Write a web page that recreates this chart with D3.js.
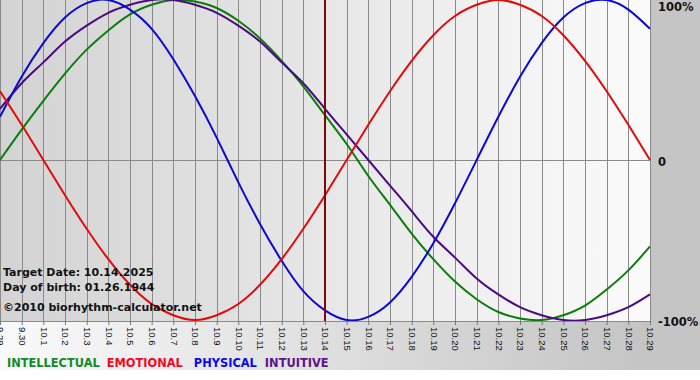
<!DOCTYPE html>
<html>
<head>
<meta charset="utf-8">
<script src="https://cdn.jsdelivr.net/npm/d3@7"></script>
<style>
  html, body { margin: 0; padding: 0; background: #ffffff; }
  svg { display: block; }
</style>
</head>
<body>
<div id="chart"></div>
<script>
// ---- data (-1 .. 1) ----
const dates = ["9.29","9.30","10.1","10.2","10.3","10.4","10.5","10.6","10.7","10.8","10.9",
  "10.10","10.11","10.12","10.13","10.14","10.15","10.16","10.17","10.18","10.19","10.20",
  "10.21","10.22","10.23","10.24","10.25","10.26","10.27","10.28","10.29"];
const intellectual = [0.00,0.19,0.37,0.54,0.69,0.81,0.91,0.97,1.00,0.99,0.95,0.87,0.76,0.62,0.46,0.28,
  0.10,-0.10,-0.28,-0.46,-0.62,-0.76,-0.87,-0.95,-0.99,-1.00,-0.97,-0.91,-0.81,-0.69,-0.54];
const emotional = [0.43,0.22,0.00,-0.22,-0.43,-0.62,-0.78,-0.90,-0.97,-1.00,-0.97,-0.90,-0.78,-0.62,-0.43,-0.22,
  0.00,0.22,0.43,0.62,0.78,0.90,0.97,1.00,0.97,0.90,0.78,0.62,0.43,0.22,0.00];
const physical = [0.27,0.52,0.73,0.89,0.98,1.00,0.94,0.82,0.63,0.40,0.14,-0.14,-0.40,-0.63,-0.82,-0.94,
  -1.00,-0.98,-0.89,-0.73,-0.52,-0.27,0.00,0.27,0.52,0.73,0.89,0.98,1.00,0.94,0.82];
const intuitive = [0.32,0.48,0.61,0.74,0.84,0.92,0.97,1.00,1.00,0.97,0.92,0.84,0.74,0.61,0.48,0.32,
  0.16,0.00,-0.16,-0.32,-0.48,-0.61,-0.74,-0.84,-0.92,-0.97,-1.00,-1.00,-0.97,-0.92,-0.84];
const seriesNames = ["INTELLECTUAL","EMOTIONAL","PHYSICAL","INTUITIVE"];
const yTickValues = [1, 0, -1];
const yTickLabels = ["100%", "0", "-100%"];
const targetDate = "10.14";
const infoLines = ["Target Date: 10.14.2025", "Day of birth: 01.26.1944", "©2010 biorhythm-calculator.net"];

// ---- styles ----
const lineColors = { INTELLECTUAL: "#0a7d0a", EMOTIONAL: "#e20a0a", PHYSICAL: "#0a0ad2", INTUITIVE: "#4b0a82" };
const legendColors = { INTELLECTUAL: "#138a28", EMOTIONAL: "#f00a1e", PHYSICAL: "#0a0ae6", INTUITIVE: "#5a148c" };
const seriesData = { INTELLECTUAL: intellectual, EMOTIONAL: emotional, PHYSICAL: physical, INTUITIVE: intuitive };
const drawOrder = ["INTELLECTUAL","INTUITIVE","PHYSICAL","EMOTIONAL"];

const W = 700, H = 380;
const plotW = 650, plotH = 321, bottomEnd = 370;

const svg = d3.select("#chart").append("svg").attr("width", W).attr("height", H);
const defs = svg.append("defs");

const gPlot = defs.append("linearGradient").attr("id", "plotBg").attr("x1", 0).attr("x2", 1).attr("y1", 0).attr("y2", 0);
gPlot.append("stop").attr("offset", "0%").attr("stop-color", "#d3d3d3");
gPlot.append("stop").attr("offset", "100%").attr("stop-color", "#fbfbfb");

const gBot = defs.append("linearGradient").attr("id", "botBg").attr("x1", 0).attr("x2", 1).attr("y1", 0).attr("y2", 0);
gBot.append("stop").attr("offset", "0%").attr("stop-color", "#fafafa");
gBot.append("stop").attr("offset", "100%").attr("stop-color", "#c4c4c4");

defs.append("clipPath").attr("id", "plotClip").append("rect")
  .attr("x", 0).attr("y", 0).attr("width", plotW + 1).attr("height", plotH);

// backgrounds
svg.append("rect").attr("x", 0).attr("y", 0).attr("width", W).attr("height", H).attr("fill", "#ffffff");
svg.append("rect").attr("x", 0).attr("y", plotH).attr("width", plotW).attr("height", bottomEnd - plotH).attr("fill", "url(#botBg)");
svg.append("rect").attr("x", plotW).attr("y", 0).attr("width", W - plotW).attr("height", bottomEnd).attr("fill", "#c5c5c5");
svg.append("rect").attr("x", 0).attr("y", 0).attr("width", plotW).attr("height", plotH).attr("fill", "url(#plotBg)");

// scales
const x = d3.scalePoint().domain(dates).range([0, plotW]);
const y = d3.scaleLinear().domain([-1, 1]).range([320, 0]);

// vertical grid
svg.append("g").attr("transform", `translate(0,${plotH})`)
  .call(d3.axisBottom(x).tickSize(-plotH).tickFormat(""))
  .call(g => g.select(".domain").remove())
  .call(g => g.selectAll("line").attr("stroke", "#8a8a8a").attr("stroke-width", 1).attr("shape-rendering", "crispEdges"));

// zero line
svg.append("line").attr("x1", 0).attr("x2", plotW).attr("y1", Math.round(y(0)) + 0.5).attr("y2", Math.round(y(0)) + 0.5)
  .attr("stroke", "#8a8a8a").attr("stroke-width", 1);

// curves
const line = d3.line().x((d, i) => x(dates[i])).y(d => y(d)).curve(d3.curveNatural);
const curves = svg.append("g").attr("clip-path", "url(#plotClip)");
drawOrder.forEach(name => {
  curves.append("path").datum(seriesData[name]).attr("d", line)
    .attr("fill", "none").attr("stroke", lineColors[name]).attr("stroke-width", 2);
});

// target date line
svg.append("line").attr("x1", x(targetDate)).attr("x2", x(targetDate)).attr("y1", 0).attr("y2", plotH)
  .attr("stroke", "#7a0a0a").attr("stroke-width", 2);

// bottom axis
const xAxis = svg.append("g").attr("transform", `translate(0,${plotH})`)
  .call(d3.axisBottom(x).tickSize(4).tickPadding(0));
xAxis.select(".domain").attr("stroke", "#8a8a8a").attr("d", `M0,0.5H${plotW}`);
xAxis.selectAll(".tick line").attr("stroke", "#777").attr("y1", 0);
xAxis.selectAll(".tick text")
  .attr("transform", "rotate(90)")
  .attr("x", 6).attr("y", 0).attr("dy", "0.35em")
  .attr("text-anchor", "start")
  .attr("font-family", "'Liberation Sans', Arial, sans-serif")
  .attr("font-size", 9.5).attr("fill", "#111");

// y labels
svg.append("g").selectAll("text").data(yTickValues).join("text")
  .attr("x", 658)
  .attr("y", d => Math.max(y(d) + 6, 11))
  .attr("font-family", "'DejaVu Sans', Verdana, sans-serif")
  .attr("font-weight", "bold").attr("font-size", 11.5).attr("fill", "#111")
  .text((d, i) => yTickLabels[i]);

// info text
const infoY = [276, 291, 310.5];
svg.append("g").selectAll("text").data(infoLines).join("text")
  .attr("x", 3).attr("y", (d, i) => infoY[i])
  .attr("font-family", "'DejaVu Sans', Verdana, sans-serif")
  .attr("font-weight", "bold").attr("font-size", 11).attr("fill", "#111")
  .text(d => d);

// legend
let lx = 7;
const legendGaps = [7, 11, 8, 0];
seriesNames.forEach((name, i) => {
  const t = svg.append("text").attr("x", lx).attr("y", 367)
    .attr("font-family", "'DejaVu Sans', Verdana, sans-serif")
    .attr("font-weight", "bold").attr("font-size", 11.4)
    .attr("fill", legendColors[name]).text(name);
  lx += t.node().getComputedTextLength() + legendGaps[i];
});
</script>
</body>
</html>
